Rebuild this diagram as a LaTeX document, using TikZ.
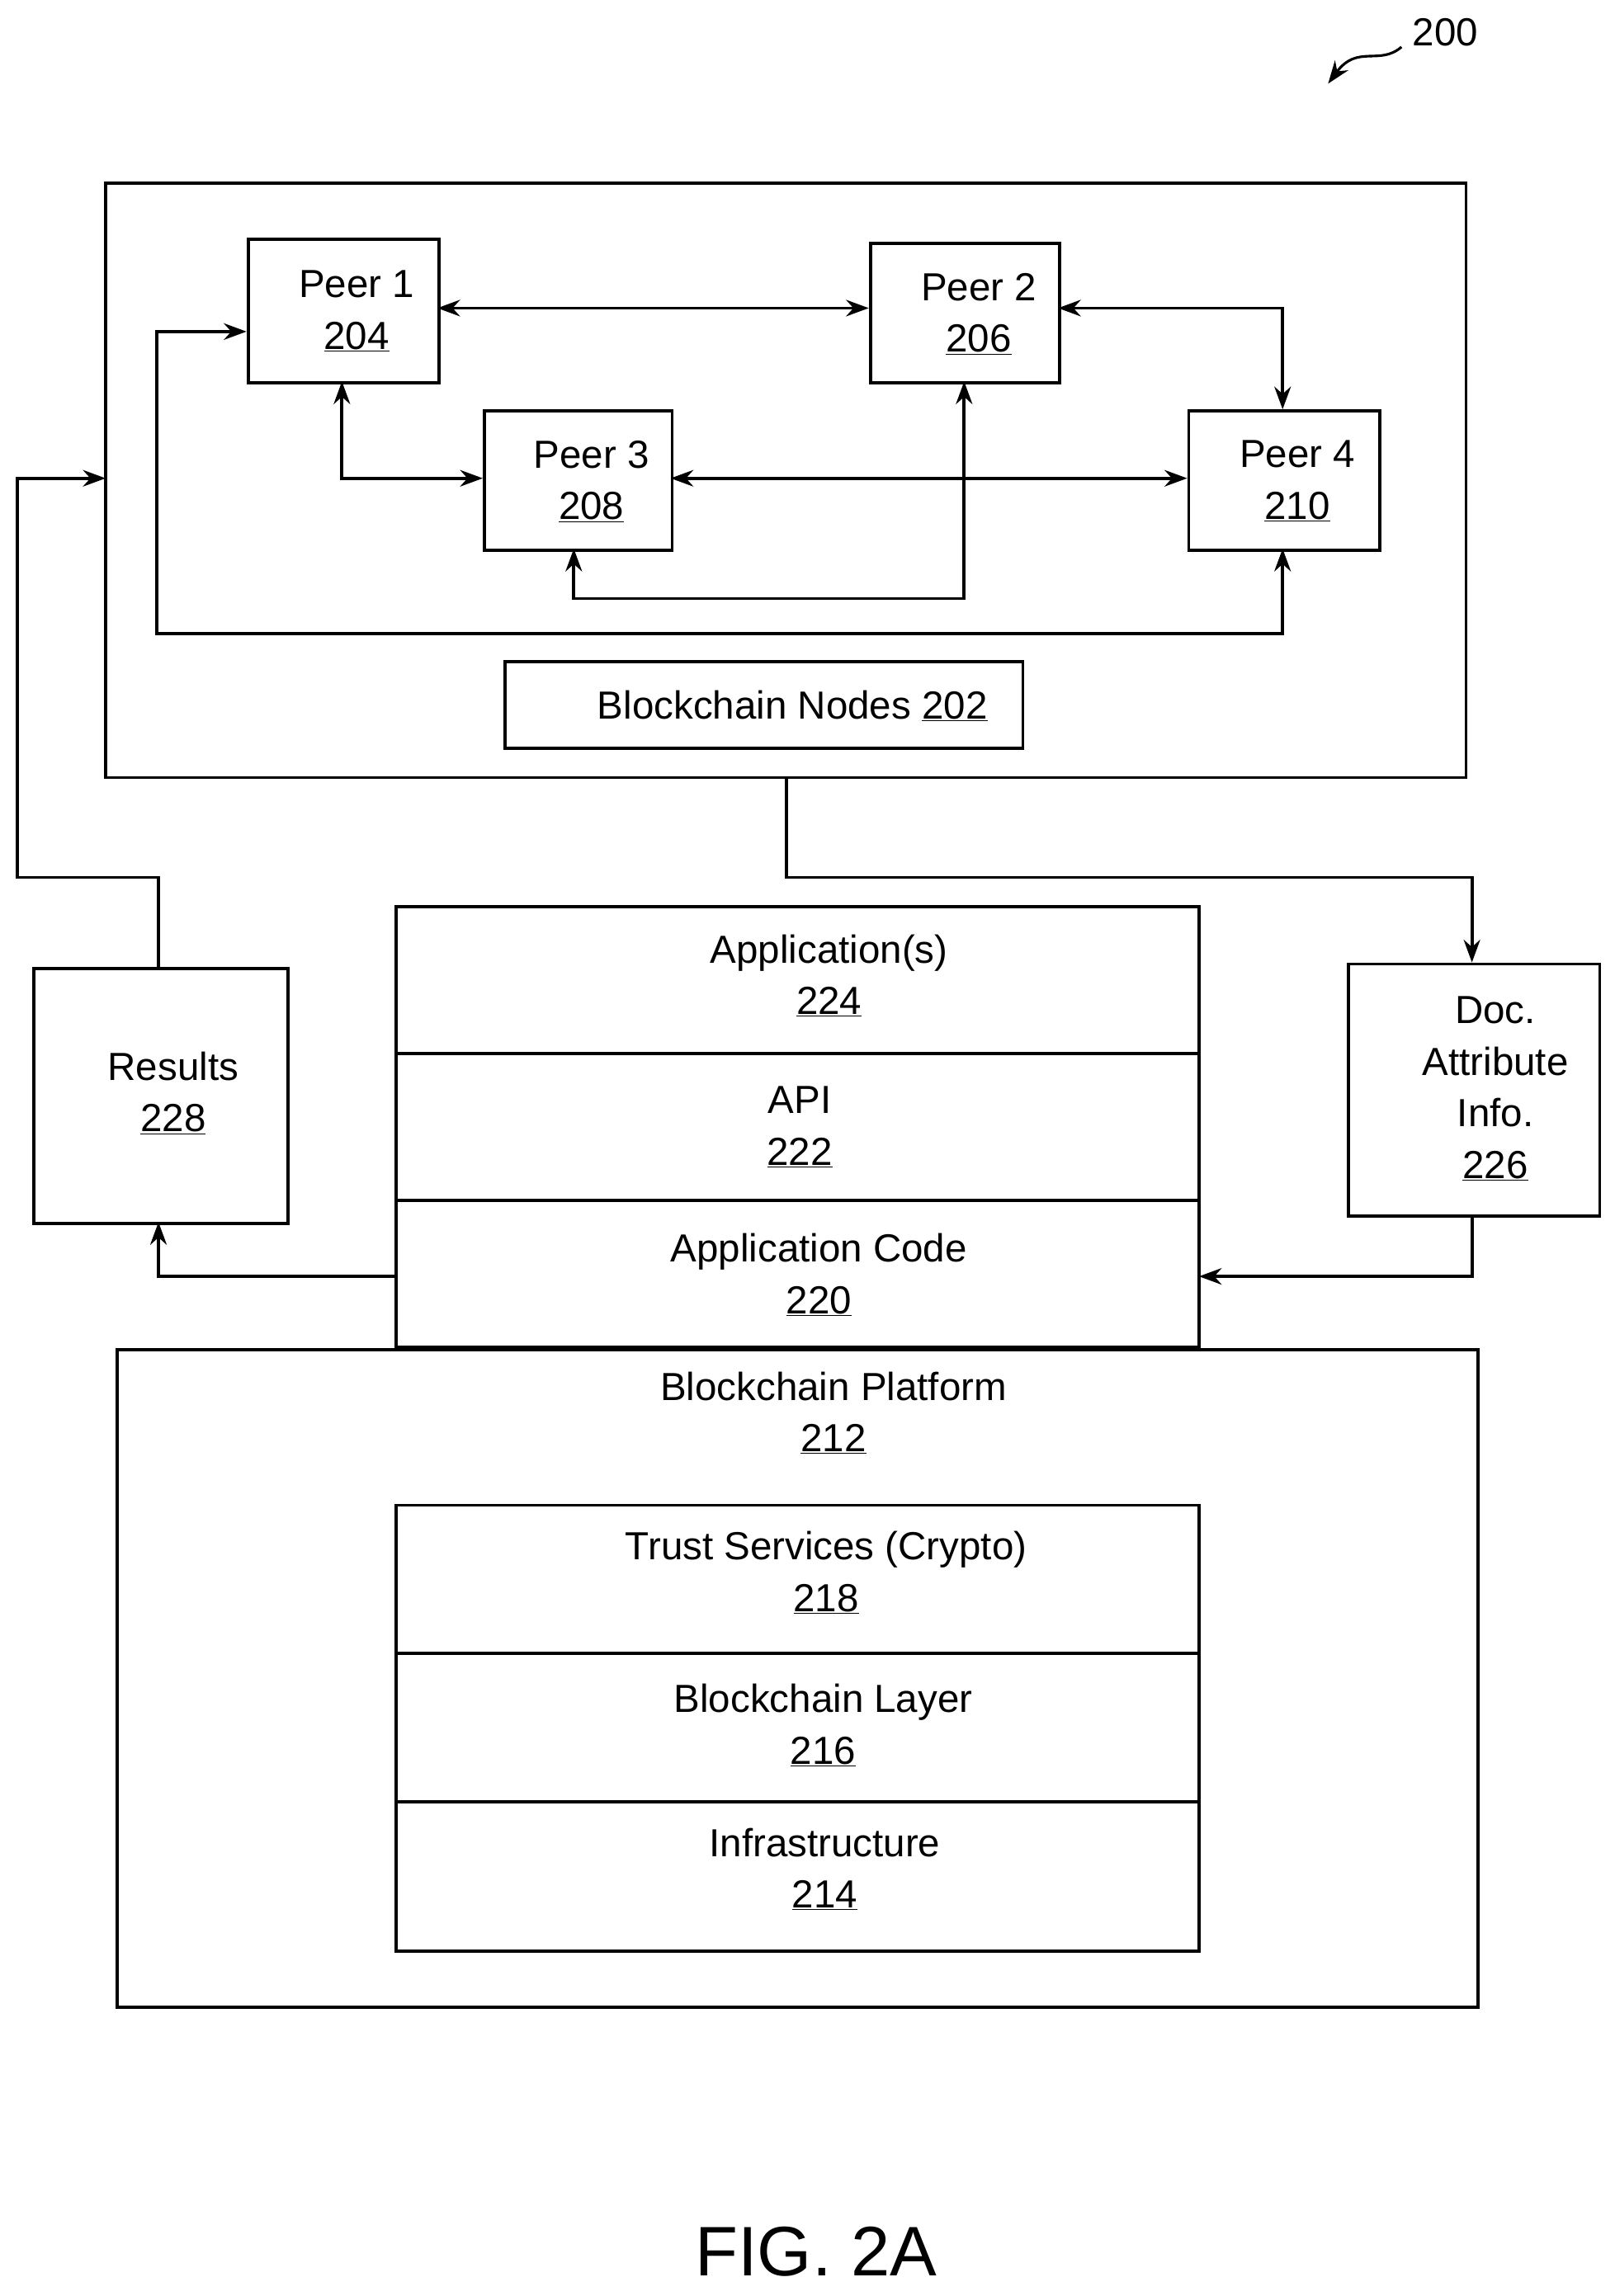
\documentclass[tikz,border=0pt]{standalone}
\usepackage{fontspec}
\setmainfont{Liberation Sans}
\usetikzlibrary{arrows.meta}
\begin{document}
\begin{tikzpicture}[x=0.05cm,y=-0.05cm,
  box/.style={draw,line width=3pt},
  lbl/.style={font=\fontsize{38}{50}\selectfont,align=center},
  con/.style={line width=3pt},
  ar/.style={con,-{Stealth[length=22pt,width=16pt]}},
  dar/.style={con,{Stealth[length=22pt,width=16pt]}-{Stealth[length=22pt,width=16pt]}}]
\useasboundingbox (0,0) rectangle (1100,1565);
% outer nodes box
\draw[box] (72,125) rectangle (999,530);
\node[box,minimum width=130*0.05cm,minimum height=98*0.05cm,anchor=north west] (p1) at (168,162) {};
\node[lbl] at (243,212) {Peer 1\\\underline{204}};
\node[box,minimum width=129*0.05cm,minimum height=95*0.05cm,anchor=north west] (p2) at (592,165) {};
\node[lbl] at (667,214) {Peer 2\\\underline{206}};
\node[box,minimum width=128*0.05cm,minimum height=95*0.05cm,anchor=north west] (p3) at (329,279) {};
\node[lbl] at (403,328) {Peer 3\\\underline{208}};
\node[box,minimum width=130*0.05cm,minimum height=95*0.05cm,anchor=north west] (p4) at (809,279) {};
\node[lbl] at (884,328) {Peer 4\\\underline{210}};
\node[box,lbl,minimum width=353*0.05cm,minimum height=59*0.05cm,anchor=north west] (bn) at (343,450) {};
\node[lbl] at (540,481) {Blockchain Nodes \underline{202}};
\coordinate (outer) at (72,326);
\coordinate (outerb) at (536,530);
% peer connections
\draw[dar] (298,210) -- (592,210);
\draw[dar] (721,210) -- (874,210) -- (874,279);
\draw[dar] (233,260) -- (233,326) -- (329,326);
\draw[dar] (457,326) -- (809,326);
\draw[dar] (657,260) -- (657,408) -- (391,408) -- (391,374);
\draw[dar] (168,226) -- (107,226) -- (107,432) -- (874,432) -- (874,374);
% results & doc
\node[box,minimum width=173*0.05cm,minimum height=174*0.05cm,anchor=north west] (res) at (22,659) {};
\node[lbl] at (118,745) {Results\\\underline{228}};
\node[box,minimum width=171*0.05cm,minimum height=172*0.05cm,anchor=north west] (doc) at (918,656) {};
\node[lbl] at (1019,742) {Doc.\\Attribute\\Info.\\\underline{226}};
\draw[ar] (108,659) -- (108,598) -- (12,598) -- (12,326) -- (outer);
\draw[ar] (outerb) -- (536,598) -- (1003,598) -- (1003,656);
% app stack
\draw[box] (270,618) rectangle (817,918);
\draw[box] (270,718) -- (817,718);
\draw[box] (270,818) -- (817,818);
\node[lbl] at (565,665) {Application(s)\\\underline{224}};
\node[lbl] at (545,768) {API\\\underline{222}};
\node[lbl] at (558,869) {Application Code\\\underline{220}};
\draw[ar] (270,870) -- (108,870) -- (108,833);
\draw[ar] (1003,828) -- (1003,870) -- (817,870);
% platform
\draw[box] (80,920) rectangle (1007,1368);
\node[lbl] at (568,963) {Blockchain Platform\\\underline{212}};
\draw[box] (270,1026) rectangle (817,1330);
\draw[box] (270,1127) -- (817,1127);
\draw[box] (270,1228) -- (817,1228);
\node[lbl] at (563,1072) {Trust Services (Crypto)\\\underline{218}};
\node[lbl] at (561,1176) {Blockchain Layer\\\underline{216}};
\node[lbl] at (562,1274) {Infrastructure\\\underline{214}};
% labels
\node[lbl] (n200) at (985,22) {200};
\draw[ar,line width=2.5pt] (955,32) .. controls (940,45) and (925,30) .. (905,57);
\node[font=\fontsize{68}{80}\selectfont] (fig) at (556,1535) {FIG. 2A};
\end{tikzpicture}
\end{document}
